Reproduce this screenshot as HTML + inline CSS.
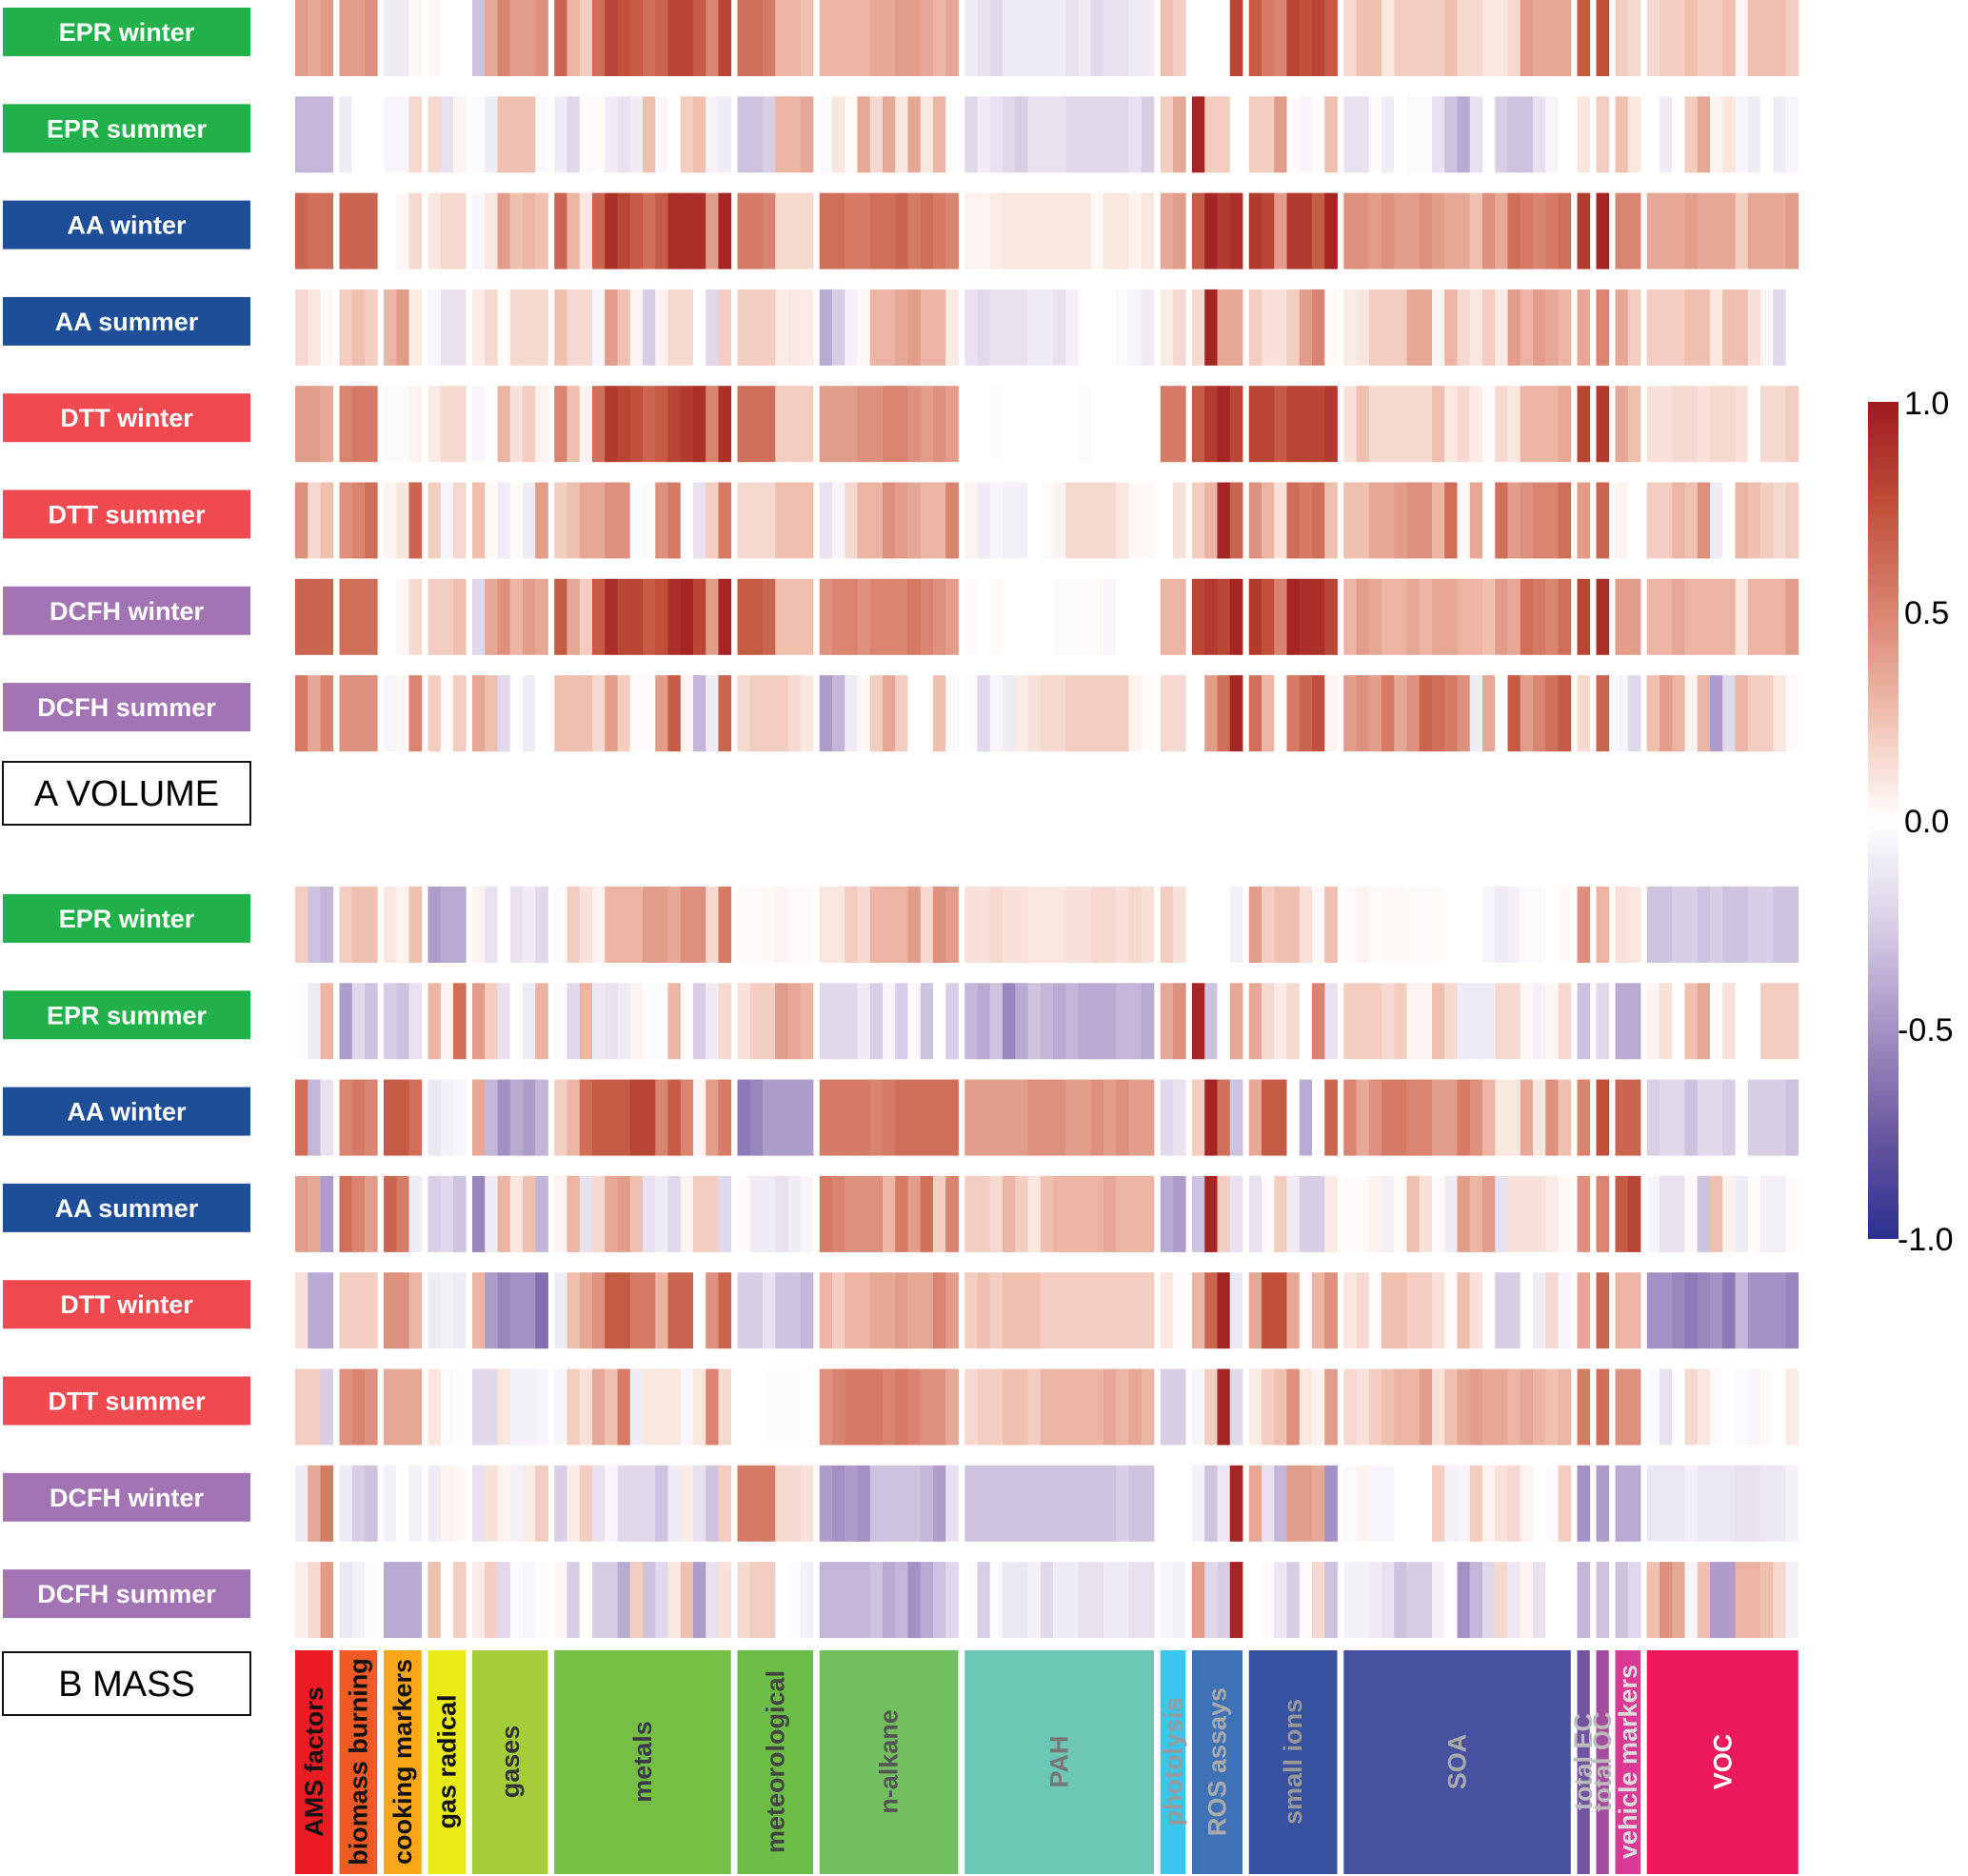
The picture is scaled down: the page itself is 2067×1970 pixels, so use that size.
<!DOCTYPE html>
<html><head><meta charset="utf-8"><style>
body{margin:0;background:#fff;}
svg{display:block;}
text{font-family:"Liberation Sans",Arial,sans-serif;}
</style></head><body>
<svg id="chart" width="2067" height="1970" viewBox="0 0 2067 1970" xmlns="http://www.w3.org/2000/svg">
<defs><linearGradient id="cbar" x1="0" y1="0" x2="0" y2="1">
<stop offset="0" stop-color="#9e1a1f"/><stop offset="0.125" stop-color="#c0503a"/><stop offset="0.25" stop-color="#d98470"/><stop offset="0.375" stop-color="#efc0b0"/><stop offset="0.5" stop-color="#ffffff"/><stop offset="0.625" stop-color="#d8cfe6"/><stop offset="0.75" stop-color="#a491c4"/><stop offset="0.875" stop-color="#6a58a0"/><stop offset="1" stop-color="#2b2f8f"/></linearGradient></defs>
<g id="cells"></g>
<g id="labels"></g>
<g id="cats"></g>
<g>
<rect x="1962" y="422" width="32" height="879" fill="url(#cbar)"/>
<text x="2000" y="435" font-size="34">1.0</text>
<text x="2000" y="655" font-size="34">0.5</text>
<text x="2000" y="874" font-size="34">0.0</text>
<text x="1993" y="1093" font-size="34">-0.5</text>
<text x="1993" y="1313" font-size="34">-1.0</text>
</g>
<g>
<rect x="3" y="800" width="260" height="66" fill="#fff" stroke="#111" stroke-width="2"/>
<text x="133" y="846" font-size="38" text-anchor="middle">A VOLUME</text>
<rect x="3" y="1735" width="260" height="66" fill="#fff" stroke="#111" stroke-width="2"/>
<text x="133" y="1781" font-size="38" text-anchor="middle">B MASS</text>
</g>
</svg>
<script>
const groupNames=["AMS factors","biomass burning","cooking markers","gas radical","gases","metals","meteorological","n-alkane","PAH","photolysis","ROS assays","small ions","SOA","total EC","total OC","vehicle markers","VOC"];
const groupCols=[3,3,3,3,6,14,6,11,15,2,4,7,18,1,1,2,12];
const groupColors=["#ed1c24","#f15a24","#f9a61a","#eaea18","#a5cd3a","#74bf44","#6cbd45","#72bf60","#6cc7b5","#39c5ee","#3e71b5","#3752a0","#4651a0","#7154a0","#a24d9e","#d93a96","#ec1a5b"];
const groupTextColors=["#111","#111","#111","#111","#333","#3a3a4a","#444","#555","#777","#999","#aaa","#999","#aaa","#bbb","#bbb","#ddd","#fff"];
const rowLabels=["EPR winter","EPR summer","AA winter","AA summer","DTT winter","DTT summer","DCFH winter","DCFH summer"];
const rowLabelColors=["#22b04b","#22b04b","#1f4e99","#1f4e99","#ef4a50","#ef4a50","#a374b4","#a374b4"];

const volEPRwinter=[0.4,0.35,0.4, 0.4,0.4,0.45, -0.1,-0.1,0.03, 0.03,0,0, -0.3,0.35,0.5,0.4,0.4,0.45, 0.65,0.3,0.2,0.6,0.8,0.75,0.7,0.6,0.65,0.8,0.8,0.7,0.5,0.8, 0.6,0.6,0.55,0.3,0.3,0.25, 0.3,0.3,0.3,0.3,0.35,0.35,0.4,0.4,0.35,0.3,0.35, -0.1,-0.15,-0.2,-0.1,-0.1,-0.1,-0.1,-0.1,-0.15,-0.1,-0.2,-0.15,-0.15,-0.1,-0.1, 0.25,0.2, 0,0,0,0.8, 0.7,0.55,0.5,0.8,0.75,0.8,0.7, 0.15,0.25,0.25,0.1,0.2,0.2,0.2,0.2,0.25,0.15,0.15,0.1,0.1,0.15,0.4,0.35,0.35,0.35, 0.7, 0.75, 0.2,0.15, 0.15,0.2,0.2,0.25,0.2,0.2,0.25,0.05,0.25,0.25,0.25,0.2];
const volEPRsummer=[-0.35,-0.35,-0.35, -0.1,0,0, -0.05,-0.05,0.15, 0.15,-0.15,0.05, -0.03,-0.1,0.25,0.25,0.25,-0.03, -0.1,-0.2,0.02,0.02,-0.1,-0.15,-0.1,0.25,-0.05,0,0.2,0.25,-0.07,-0.1, -0.3,-0.3,-0.25,0.3,0.3,0.35, -0.03,0.1,0.02,0.35,0.15,0.35,0.1,0.35,0.1,0.3,0, -0.2,-0.1,-0.15,-0.2,-0.25,-0.15,-0.15,-0.15,-0.2,-0.2,-0.2,-0.2,-0.2,-0.15,-0.25, 0.2,0.35, 0.95,0.2,0.2,0, 0.2,0.2,0.4,0.02,-0.05,0.02,0.25, -0.15,-0.15,0.02,-0.1,0,-0.03,-0.03,-0.15,-0.3,-0.4,-0.15,0,-0.25,-0.3,-0.3,-0.15,-0.05,0, 0.1, 0.2, 0.25,0.1, 0,-0.1,0,0.2,0.35,0.05,0.1,-0.05,-0.1,0,-0.1,-0.05];
const volAAwinter=[0.65,0.6,0.6, 0.65,0.65,0.65, 0,0.03,0.15, 0.1,0.15,0.15, -0.05,0.1,0.4,0.25,0.3,0.25, 0.65,0.3,0.1,0.65,0.9,0.8,0.7,0.6,0.7,0.9,0.9,0.9,0.4,0.95, 0.55,0.55,0.5,0.15,0.15,0.15, 0.6,0.6,0.55,0.55,0.6,0.6,0.65,0.55,0.6,0.55,0.5, 0.05,0.05,0.08,0.1,0.1,0.1,0.1,0.1,0.1,0.1,0.03,0.1,0.1,0.05,0.1, 0.35,0.4, 0.7,0.95,0.85,0.9, 0.85,0.8,0.4,0.85,0.85,0.7,0.95, 0.45,0.45,0.4,0.45,0.4,0.4,0.45,0.4,0.35,0.35,0.25,0.45,0.35,0.6,0.55,0.5,0.55,0.6, 0.85, 0.95, 0.5,0.5, 0.35,0.35,0.35,0.4,0.35,0.35,0.35,0.2,0.35,0.35,0.35,0.4];
const volAAsummer=[0.15,0.1,0.03, 0.2,0.25,0.2, 0.3,0.4,0.08, -0.05,-0.15,-0.15, 0.08,0.15,0.02,0.15,0.15,0.15, 0.25,0.15,0.15,-0.05,0.4,0.25,0.05,-0.25,0.05,0.15,0.15,0,-0.2,0.2, 0.2,0.2,0.2,0.08,0.1,0.08, -0.4,-0.25,-0.08,0.03,0.3,0.3,0.35,0.4,0.3,0.3,0.08, -0.15,-0.2,-0.15,-0.15,-0.15,-0.1,-0.1,-0.15,-0.08,0,0,0,-0.03,-0.05,-0.1, 0.08,0.15, 0.15,0.95,0.35,0.35, 0.2,0.12,0.12,0.2,0.4,0.5,0.02, 0.08,0.1,0.2,0.2,0.2,0.35,0.35,0.05,0.3,0.15,0.1,0.2,0.08,0.4,0.3,0.4,0.35,0.3, 0.35, 0.5, 0.35,0.2, 0.2,0.2,0.2,0.25,0.25,0.1,0.25,0.25,0.12,-0.05,-0.2,0];
const volDTTwinter=[0.4,0.4,0.35, 0.5,0.55,0.55, -0.03,-0.03,0.05, 0.08,0.15,0.15, -0.05,0,0.3,0.12,0.2,0.05, 0.5,0.25,0.05,0.6,0.85,0.8,0.75,0.65,0.7,0.8,0.85,0.9,0.5,0.9, 0.6,0.6,0.6,0.2,0.2,0.2, 0.4,0.4,0.4,0.45,0.45,0.5,0.5,0.45,0.4,0.45,0.4, 0,0,-0.02,0,0,0,0,0,0,-0.03,0,0,0,0,0, 0.55,0.55, 0.7,0.85,0.95,0.8, 0.8,0.8,0.7,0.8,0.8,0.8,0.85, 0.12,0.25,0.15,0.15,0.15,0.15,0.15,0.25,0.1,0.15,0.08,0.02,0.15,0.1,0.3,0.3,0.3,0.35, 0.8, 0.85, 0.35,0.25, 0.12,0.12,0.15,0.15,0.12,0.15,0.15,0.12,0,0.15,0.15,0.2];
const volDTTsummer=[0.45,0.15,0.25, 0.45,0.5,0.6, 0.05,0.1,0.65, 0.2,-0.05,0.15, 0.25,0.03,-0.1,0.02,-0.1,0.4, 0.2,0.25,0.35,0.35,0.45,0.45,0,-0.03,0.45,0.55,0,-0.15,0.2,0.55, 0.15,0.15,0.15,0.25,0.25,0.25, -0.15,-0.05,0.15,0.3,0.3,0.45,0.4,0.35,0.3,0.3,0.5, 0.05,-0.1,-0.05,-0.08,-0.08,0,-0.03,0.05,0.15,0.15,0.15,0.15,0.1,0.03,0.03, 0,0.12, 0.2,0.3,0.95,0.65, 0.45,0.3,0.12,0.6,0.55,0.6,0.25, 0.25,0.25,0.35,0.35,0.4,0.45,0.45,0.3,0.6,0.03,0.35,0,0.6,0.4,0.45,0.5,0.5,0.6, 0.4, 0.65, 0.05,0, 0.2,0.2,0.3,0.25,0.45,-0.1,0,0.3,0.25,0.2,0.15,0.2];
const volDCFHwinter=[0.65,0.65,0.65, 0.6,0.6,0.6, 0,0.03,0.15, 0.2,0.2,0.25, -0.2,0.35,0.45,0.3,0.4,0.35, 0.7,0.35,0.2,0.7,0.9,0.8,0.8,0.7,0.75,0.9,0.95,0.8,0.4,0.95, 0.7,0.7,0.65,0.25,0.25,0.25, 0.45,0.5,0.5,0.45,0.5,0.5,0.5,0.55,0.5,0.45,0.4, 0.02,0,0.02,0,0,0,0,-0.03,-0.02,0.02,0.02,-0.05,0,0,0, 0.3,0.3, 0.8,0.85,0.8,0.95, 0.85,0.75,0.5,0.95,0.9,0.9,0.8, 0.3,0.4,0.35,0.3,0.3,0.35,0.3,0.35,0.35,0.3,0.3,0.25,0.4,0.35,0.6,0.55,0.5,0.6, 0.8, 0.9, 0.4,0.4, 0.3,0.3,0.35,0.3,0.3,0.3,0.3,0.1,0.3,0.3,0.3,0.4];
const volDCFHsummer=[0.55,0.35,0.5, 0.45,0.45,0.45, -0.05,0.03,0.5, 0.2,0.02,0.2, 0.35,0.25,-0.2,0,-0.1,0, 0.25,0.25,0.25,0.15,0.4,0.2,0.02,0.02,0.4,0.7,0.05,-0.35,-0.1,0.65, 0.15,0.2,0.2,0.2,0.15,0.1, -0.45,-0.35,-0.1,0.03,0.2,0.35,0.2,0,0,0.25,-0.03, -0.02,-0.2,-0.05,-0.1,0.08,0.12,0.15,0.15,0.2,0.2,0.2,0.2,0.2,0.05,0.02, 0.15,0.15, 0,0.4,0.6,0.95, 0.6,0.3,0,0.55,0.65,0.75,0.05, 0.4,0.45,0.4,0.55,0.35,0.45,0.65,0.6,0.55,0.45,-0.1,0.35,0,0.7,0.4,0.5,0.6,0.7, 0.15, 0.65, -0.05,-0.2, 0.25,0.4,0.3,0.05,0.3,-0.45,-0.2,0.3,0.2,0.2,0.1,0.02];
const massEPRwinter=[0.2,-0.3,-0.35, 0.2,0.25,0.25, 0.1,0.05,0.25, -0.45,-0.4,-0.4, 0.05,-0.15,0,-0.15,-0.1,-0.2, -0.03,0.2,0.12,0.05,0.3,0.3,0.3,0.4,0.4,0.35,0.45,0.45,0.15,0.55, 0.02,0.02,0.03,0.05,0.02,0.02, 0.1,0.1,0.2,0.15,0.3,0.3,0.3,0.4,0.15,0.45,0.4, 0.12,0.12,0.15,0.12,0.12,0.1,0.1,0.1,0.12,0.12,0.15,0.15,0.12,0.15,0.12, 0.2,0.12, 0,0,0,-0.08, 0.4,0.2,0.25,0.25,0.12,0.03,0.25, 0.02,0.05,0.02,0.03,0.03,0.02,0.02,0.02,0,0,0,-0.05,-0.1,-0.08,-0.03,-0.03,0,0.03, 0.45, 0.3, 0.12,0.1, -0.3,-0.3,-0.25,-0.25,-0.3,-0.25,-0.3,-0.3,-0.25,-0.25,-0.3,-0.3];
const massEPRsummer=[-0.02,-0.1,0.3, -0.45,-0.2,-0.3, -0.25,-0.3,-0.15, 0.3,0.05,0.6, 0.4,0.2,-0.15,0,-0.1,0.3, -0.03,-0.2,0.3,-0.12,-0.15,-0.1,0.05,-0.02,-0.02,0.3,-0.03,-0.25,-0.1,0.15, 0.12,0.2,0.2,0.4,0.35,0.3, -0.2,-0.2,-0.2,-0.1,-0.25,-0.05,-0.25,-0.03,-0.3,0,-0.25, -0.35,-0.4,-0.3,-0.55,-0.4,-0.3,-0.35,-0.4,-0.35,-0.4,-0.4,-0.4,-0.35,-0.35,-0.4, 0.35,0.45, 0.95,-0.3,0,0.35, 0.35,0.15,0.08,0.15,0,0.5,-0.15, 0.2,0.2,0.2,0.15,0.2,0.05,0.05,0.25,0.15,-0.1,-0.1,-0.1,0.15,0.15,0.03,-0.08,0.03,0.15, -0.3, -0.2, -0.4,-0.4, 0.05,0.12,0,0.25,0.35,0.02,0.12,0,0,0.2,0.2,0.2];
const massAAwinter=[0.6,-0.35,-0.15, 0.5,0.55,0.5, 0.7,0.7,0.6, -0.12,-0.08,-0.05, 0.35,-0.35,-0.5,-0.4,-0.45,-0.35, 0.2,0.3,0.6,0.7,0.7,0.7,0.8,0.8,0.5,0.7,0.5,0.05,0.4,0.55, -0.6,-0.55,-0.45,-0.45,-0.45,-0.45, 0.55,0.55,0.55,0.55,0.5,0.55,0.6,0.6,0.6,0.6,0.6, 0.4,0.4,0.4,0.4,0.4,0.45,0.45,0.45,0.4,0.4,0.45,0.4,0.45,0.4,0.4, -0.2,-0.15, 0.2,0.95,0.6,-0.3, 0.35,0.7,0.7,0,-0.4,0,0.65, 0.5,0.35,0.45,0.55,0.55,0.5,0.5,0.4,0.4,0.55,0.45,0.3,0.1,0.1,0.35,0.1,0.45,0.25, 0.5, 0.75, 0.65,0.65, -0.25,-0.2,-0.2,-0.3,-0.2,-0.2,-0.25,-0.02,-0.25,-0.25,-0.25,-0.3];
const massAAsummer=[0.4,0.35,-0.45, 0.6,0.5,0.4, 0.65,0.55,-0.1, -0.25,-0.2,-0.3, -0.55,-0.1,0.3,0.1,0.25,-0.35, 0.05,0.3,-0.15,0.15,0.35,0.4,0.25,-0.15,-0.1,-0.2,0.05,0.2,0.2,-0.2, 0.02,-0.1,-0.1,-0.15,-0.1,-0.05, 0.55,0.5,0.45,0.45,0.45,0.3,0.55,0.4,0.6,0.2,0.5, 0.2,0.2,0.15,0.3,0.2,0.1,0.25,0.3,0.3,0.3,0.3,0.35,0.3,0.3,0.3, -0.4,-0.45, -0.3,0.95,0.2,-0.15, -0.15,0.02,0.2,-0.1,-0.25,-0.25,0.08, 0.02,0.02,0.05,-0.08,0.02,0.25,0.12,0.02,-0.1,0.4,0.3,0.4,-0.15,0.12,0.12,0.12,0.08,0.03, 0.45, 0.5, 0.7,0.8, -0.05,-0.15,-0.15,0.02,-0.3,0.25,0.05,-0.1,0.02,-0.08,-0.08,0.02];
const massDTTwinter=[0.12,-0.4,-0.4, 0.2,0.2,0.2, 0.45,0.45,0.3, -0.1,-0.08,-0.1, 0.3,-0.45,-0.55,-0.5,-0.5,-0.65, -0.1,0.25,0.35,0.45,0.7,0.7,0.55,0.55,0.3,0.65,0.65,0,0.45,0.65, -0.25,-0.25,-0.15,-0.3,-0.3,-0.35, 0.3,0.2,0.3,0.3,0.35,0.35,0.4,0.35,0.35,0.5,0.4, 0.2,0.25,0.2,0.25,0.25,0.25,0.2,0.2,0.2,0.2,0.2,0.2,0.2,0.2,0.2, 0.1,0.02, 0.3,0.65,0.95,-0.12, 0.35,0.75,0.75,0.35,0.02,0.3,0.45, 0.1,0.15,0.02,0.25,0.25,0.2,0.2,0.12,0.02,0.25,0.12,0,-0.25,-0.25,0,-0.1,0.15,-0.05, 0.35, 0.65, 0.3,0.3, -0.5,-0.5,-0.55,-0.6,-0.55,-0.5,-0.6,-0.35,-0.5,-0.5,-0.5,-0.55];
const massDTTsummer=[0.2,0.2,-0.25, 0.45,0.5,0.45, 0.35,0.35,0.35, 0.1,-0.03,-0.02, -0.2,-0.2,0.1,-0.08,-0.08,-0.05, -0.05,0.2,0.12,0.35,0.25,0.55,-0.1,0.1,0.1,0.1,-0.05,0.1,0.5,0.15, 0,0,-0.02,-0.02,-0.02,0, 0.45,0.5,0.55,0.55,0.55,0.5,0.55,0.5,0.45,0.45,0.35, 0.15,0.2,0.2,0.25,0.25,0.2,0.3,0.3,0.3,0.3,0.3,0.35,0.3,0.35,0.3, -0.25,-0.25, -0.05,0.2,0.95,-0.2, 0.08,0.2,0.25,0.45,0.1,0.05,0.4, 0.15,0.12,0.2,0.25,0.3,0.3,0.4,0.12,0.25,0.35,0.4,0.35,0.35,0.3,0.35,0.3,0.25,0.3, 0.55, 0.6, 0.45,0.45, -0.03,-0.15,0,0.15,0.1,0.02,0,-0.03,-0.05,0.02,0,0.08];
const massDCFHwinter=[-0.1,0.35,0.55, -0.1,-0.25,-0.3, -0.08,0,-0.08, -0.1,0.05,0.03, -0.15,0.12,0.05,-0.08,0.08,0.2, -0.25,0.08,0.2,-0.15,-0.05,-0.2,-0.2,-0.2,-0.3,-0.1,0.08,-0.15,-0.3,0.2, 0.55,0.55,0.55,0.15,0.15,0.12, -0.45,-0.5,-0.45,-0.5,-0.3,-0.3,-0.3,-0.3,-0.35,-0.45,-0.15, -0.3,-0.3,-0.3,-0.3,-0.3,-0.3,-0.3,-0.3,-0.3,-0.3,-0.3,-0.3,-0.25,-0.3,-0.3, 0,0, -0.08,-0.3,-0.12,0.95, 0.35,-0.15,-0.35,0.4,0.4,0.35,-0.5, -0.03,0.05,-0.05,-0.05,0,0,0,0.2,-0.08,-0.05,0.2,0.05,0.12,0.15,0.05,0,0.02,0.2, -0.5, -0.45, -0.4,-0.4, -0.12,-0.12,-0.12,-0.08,-0.12,-0.12,-0.12,-0.15,-0.15,-0.12,-0.12,-0.08];
const massDCFHsummer=[0.07,0.15,0.4, -0.12,-0.08,-0.03, -0.4,-0.4,-0.4, 0.25,0,0.2, 0.08,0.2,-0.2,-0.03,-0.05,-0.02, 0.03,-0.25,0,-0.25,-0.25,-0.4,0.2,-0.3,-0.2,0.1,0.25,-0.45,-0.15,0.12, 0.15,0.2,0.2,0,-0.03,-0.08, -0.35,-0.35,-0.35,-0.35,-0.3,-0.4,-0.35,-0.5,-0.4,-0.3,-0.2, -0.02,-0.25,-0.03,-0.12,-0.12,-0.08,-0.2,-0.1,-0.1,-0.15,-0.15,-0.1,-0.1,-0.15,-0.15, -0.05,-0.08, 0.4,-0.2,-0.25,0.95, 0,0.02,-0.12,-0.25,0.02,0.15,-0.3, -0.08,-0.08,-0.1,-0.15,-0.3,-0.25,-0.25,-0.08,0,-0.5,-0.35,-0.2,0.15,-0.12,0.05,-0.15,0,0, -0.35, -0.3, -0.3,-0.2, 0.25,0.45,0.35,-0.05,0.25,-0.45,-0.45,0.3,0.3,0.25,0.15,-0.08];

const volumeRows=[volEPRwinter,volEPRsummer,volAAwinter,volAAsummer,volDTTwinter,volDTTsummer,volDCFHwinter,volDCFHsummer];
const massRows=[massEPRwinter,massEPRsummer,massAAwinter,massAAsummer,massDTTwinter,massDTTsummer,massDCFHwinter,massDCFHsummer];

const NS="http://www.w3.org/2000/svg";
const X0=310, COLW=13.25, GAP=6.75, ROWH=80, ROWSTEP=101.3;
const panelTop=[0,931];
const stops=[[-1,[43,47,143]],[-0.75,[106,88,160]],[-0.5,[164,145,196]],[-0.25,[216,207,230]],[0,[255,255,255]],[0.25,[239,192,176]],[0.5,[217,132,112]],[0.75,[192,80,58]],[1,[158,26,31]]];
function colorOf(v){v=Math.max(-1,Math.min(1,v));for(let i=0;i<stops.length-1;i++){const a=stops[i],b=stops[i+1];if(v<=b[0]){const t=(v-a[0])/(b[0]-a[0]);const c=a[1].map((x,k)=>Math.round(x+(b[1][k]-x)*t));return `rgb(${c[0]},${c[1]},${c[2]})`;}}return "rgb(158,26,31)";}
function colX(idx){let g=0,acc=0;while(idx>=acc+groupCols[g]){acc+=groupCols[g];g++;}let x=X0;for(let k=0;k<g;k++)x+=groupCols[k]*COLW+GAP;return x+(idx-acc)*COLW;}
function groupX(g){let x=X0;for(let k=0;k<g;k++)x+=groupCols[k]*COLW+GAP;return x;}
function rowY(p,r){return panelTop[p]+r*ROWSTEP;}

const cells=document.getElementById('cells');
[volumeRows,massRows].forEach((rows,p)=>{
  rows.forEach((vals,r)=>{
    vals.forEach((v,i)=>{
      const el=document.createElementNS(NS,'rect');
      el.setAttribute('x',colX(i).toFixed(2));
      el.setAttribute('y',rowY(p,r).toFixed(1));
      el.setAttribute('width',(COLW+0.4).toFixed(2));
      el.setAttribute('height',ROWH);
      el.setAttribute('fill',colorOf(v));
      
      
      cells.appendChild(el);
    });
  });
});

const labels=document.getElementById('labels');
[0,1].forEach(p=>{
  rowLabels.forEach((name,r)=>{
    const y=rowY(p,r)+8;
    const rc=document.createElementNS(NS,'rect');
    rc.setAttribute('x',3);rc.setAttribute('y',y.toFixed(1));rc.setAttribute('width',260);rc.setAttribute('height',51);
    rc.setAttribute('fill',rowLabelColors[r]);
    
    
    labels.appendChild(rc);
    const t=document.createElementNS(NS,'text');
    t.setAttribute('x',133);t.setAttribute('y',(y+35).toFixed(1));
    t.setAttribute('font-size',27);t.setAttribute('font-weight','bold');t.setAttribute('fill','#fff');t.setAttribute('text-anchor','middle');
    t.textContent=name;
    
    
    labels.appendChild(t);
  });
});

const cats=document.getElementById('cats');
groupNames.forEach((name,g)=>{
  const x=groupX(g), w=groupCols[g]*COLW;
  const rc=document.createElementNS(NS,'rect');
  rc.setAttribute('x',x.toFixed(2));rc.setAttribute('y',1733);rc.setAttribute('width',w.toFixed(2));rc.setAttribute('height',235);
  rc.setAttribute('fill',groupColors[g]);
  
  
  cats.appendChild(rc);
  const cx=x+w/2+9, cy=1850;
  const t=document.createElementNS(NS,'text');
  t.setAttribute('x',cx.toFixed(1));t.setAttribute('y',cy);
  t.setAttribute('transform',`rotate(-90 ${cx.toFixed(1)} ${cy})`);
  t.setAttribute('font-size',27);t.setAttribute('font-weight','bold');t.setAttribute('text-anchor','middle');
  t.setAttribute('fill',groupTextColors[g]);
  t.textContent=name;
  
  
  cats.appendChild(t);
});
</script>
</body></html>
